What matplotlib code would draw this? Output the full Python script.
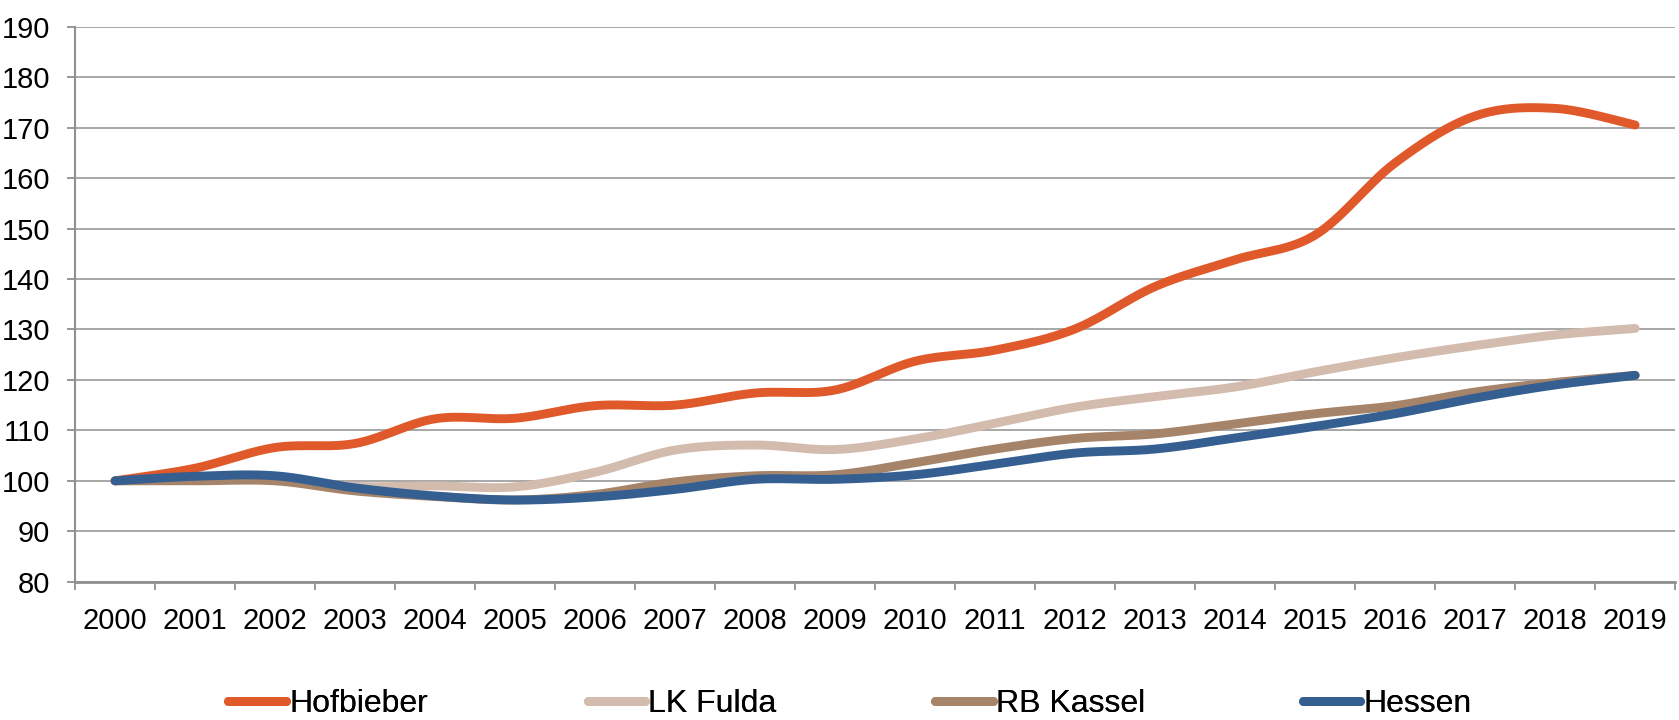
import numpy as np
import matplotlib
matplotlib.use("Agg")
import matplotlib.pyplot as plt
from matplotlib.ticker import FixedLocator

# Data
years = [str(y) for y in range(2000, 2020)]
hofbieber = [100, 102.5, 106.6, 107.4, 112.3, 112.4, 114.9, 115.0, 117.4, 118.0,
             123.7, 125.9, 130.1, 138.5, 143.8, 148.7, 163.0, 172.3, 173.8, 170.5]
lk_fulda = [100, 100.2, 100.3, 98.9, 99.0, 98.8, 101.7, 106.1, 107.1, 106.2,
            108.3, 111.4, 114.6, 116.7, 118.6, 121.6, 124.4, 126.8, 128.9, 130.2]
rb_kassel = [100, 100.0, 100.0, 98.0, 96.9, 96.2, 97.3, 99.8, 101.0, 101.2,
             103.6, 106.3, 108.4, 109.3, 111.3, 113.3, 114.9, 117.6, 119.5, 120.9]
hessen = [100, 100.9, 101.0, 98.6, 97.0, 96.2, 96.8, 98.3, 100.3, 100.3,
          101.2, 103.3, 105.5, 106.3, 108.5, 110.8, 113.3, 116.4, 119.0, 120.9]

series = [
    ("Hofbieber", hofbieber, "#E0592A"),
    ("LK Fulda", lk_fulda, "#D3BCAE"),
    ("RB Kassel", rb_kassel, "#A6846A"),
    ("Hessen", hessen, "#355F91"),
]
# left edge of each legend entry, as fraction of figure width
legend_x = [0.136, 0.350, 0.557, 0.776]


def smooth(x, y, n=30):
    # Catmull-Rom style bezier, like the spreadsheet "smoothed line"
    x = np.asarray(x, float)
    y = np.asarray(y, float)
    px = np.concatenate([[x[0]], x, [x[-1]]])
    py = np.concatenate([[y[0]], y, [y[-1]]])
    t = np.linspace(0, 1, n)[:, None]
    xs, ys = [], []
    for i in range(1, len(px) - 2):
        p0 = np.array([px[i], py[i]])
        p3 = np.array([px[i + 1], py[i + 1]])
        c1 = p0 + (p3 - np.array([px[i - 1], py[i - 1]])) / 6
        c2 = p3 - (np.array([px[i + 2], py[i + 2]]) - p0) / 6
        pts = ((1 - t) ** 3) * p0 + 3 * ((1 - t) ** 2) * t * c1 + 3 * (1 - t) * t ** 2 * c2 + t ** 3 * p3
        xs.append(pts[:, 0])
        ys.append(pts[:, 1])
    return np.concatenate(xs), np.concatenate(ys)


plt.rcParams["font.family"] = ["Liberation Sans", "DejaVu Sans"]
plt.rcParams["font.size"] = 21

fig = plt.figure(figsize=(16.79, 7.2), dpi=100)
ax = fig.add_axes([0.0447, 0.192, 0.953, 0.771])

x = np.arange(len(years))
lines = []
for name, vals, color in series:
    sx, sy = smooth(x, vals)
    ln, = ax.plot(sx, sy, color=color, lw=6.4, solid_capstyle="round", label=name, zorder=3)
    lines.append(ln)

ax.set_xlim(-0.5, len(years) - 0.5)
ax.set_ylim(80, 190)
ax.set_yticks(np.arange(80, 191, 10))
ax.yaxis.grid(True, color="#A0A0A0", lw=1.3)
ax.set_axisbelow(True)

ax.set_xticks(x)
ax.set_xticklabels(years)
ax.xaxis.set_minor_locator(FixedLocator(np.arange(-0.5, len(years), 1.0)))
ax.tick_params(axis="x", which="major", length=0, pad=18)
ax.tick_params(axis="x", which="minor", length=6, width=1.3, color="#909090")
ax.tick_params(axis="y", length=6, width=1.3, color="#909090", pad=12)

for s in ["top", "right"]:
    ax.spines[s].set_visible(False)
ax.spines["left"].set_color("#909090")
ax.spines["left"].set_linewidth(1.5)
ax.spines["bottom"].set_color("#909090")
ax.spines["bottom"].set_linewidth(2)

for ln, lx in zip(lines, legend_x):
    leg = fig.legend([ln], [ln.get_label()], loc="center left", bbox_to_anchor=(lx, 0.022),
                     frameon=False, fontsize=23, handlelength=1.8, handletextpad=0.1,
                     borderpad=0, borderaxespad=0)
    fig.add_artist(leg)

fig.savefig("out.png", dpi=100)
